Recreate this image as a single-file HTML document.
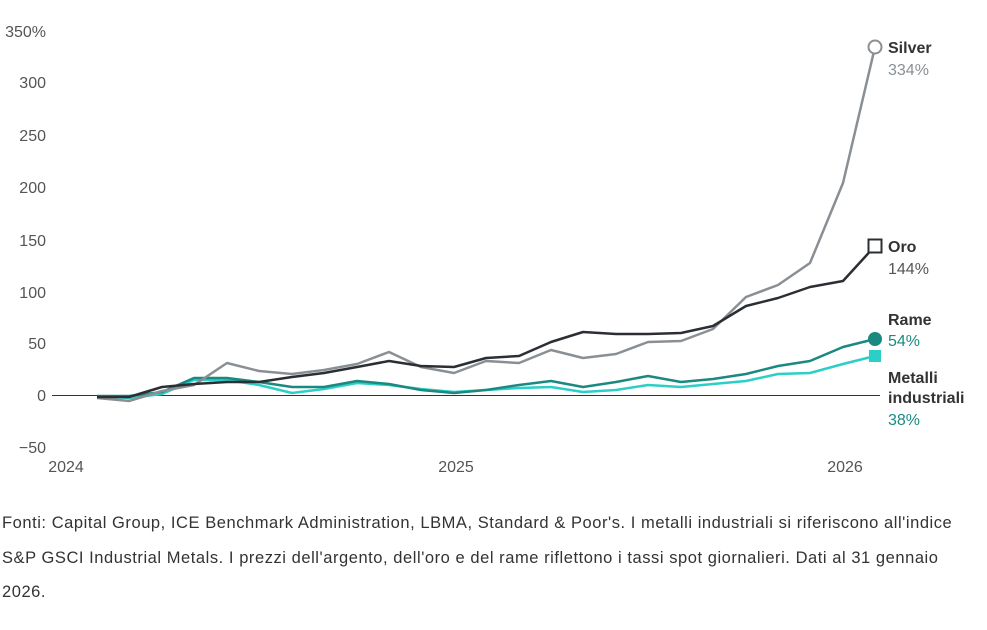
<!DOCTYPE html>
<html><head><meta charset="utf-8"><style>
body{margin:0;background:#fff;width:987px;height:630px;overflow:hidden;font-family:"Liberation Sans",sans-serif}
.f{position:absolute;left:2px;top:506px;font-size:16.5px;letter-spacing:0.55px;color:#333;line-height:34.5px;white-space:nowrap}
</style></head><body>
<svg width="987" height="500" style="position:absolute;left:0;top:0" font-family="Liberation Sans, sans-serif">
<g font-size="16" fill="#555">
<text x="46" y="37" text-anchor="end">350%</text>
<text x="46" y="88" text-anchor="end">300</text>
<text x="46" y="141" text-anchor="end">250</text>
<text x="46" y="193" text-anchor="end">200</text>
<text x="46" y="246" text-anchor="end">150</text>
<text x="46" y="298" text-anchor="end">100</text>
<text x="46" y="349" text-anchor="end">50</text>
<text x="46" y="401" text-anchor="end">0</text>
<text x="46" y="453" text-anchor="end">−50</text>
<text x="66" y="472" text-anchor="middle">2024</text>
<text x="456" y="472" text-anchor="middle">2025</text>
<text x="845" y="472" text-anchor="middle">2026</text>
</g>
<line x1="52" y1="395.5" x2="880" y2="395.5" stroke="#333" stroke-width="1"/>
<g fill="none" stroke-width="2.5" stroke-linejoin="round">
<polyline stroke="#2ccfc8" points="97,396 129,398 162,394 194,380 227,380 259,385 292,393 324,389 357,383 389,385 421,389 454,392 486,390 519,388 551,387 583,392 616,390 648,385 681,387 713,384 746,381 778,374 810,373 843,364 875,356"/>
<polyline stroke="#1a8a80" points="97,396 129,396 162,392 194,378 227,378 259,382 292,387 324,387 357,381 389,384 421,390 454,393 486,390 519,385 551,381 583,387 616,382 648,376 681,382 713,379 746,374 778,366 810,361 843,347 875,339"/>
<polyline stroke="#8a8f94" points="97,398 129,401 162,391 194,385 227,363 259,371 292,374 324,370 357,364 389,352 421,367 454,373 486,361 519,363 551,350 583,358 616,354 648,342 681,341 713,329 746,297 778,285 810,263 843,183 875,47"/>
<polyline stroke="#2b2f33" points="97,397 129,397 162,387 194,384 227,382 259,382 292,377 324,373 357,367 389,361 421,366 454,367 486,358 519,356 551,342 583,332 616,334 648,334 681,333 713,326 746,306 778,298 810,287 843,281 875,246"/>
</g>
<circle cx="875" cy="47" r="6.5" fill="#fff" stroke="#8a8f94" stroke-width="2"/>
<rect x="868.5" y="239.5" width="13" height="13" fill="#fff" stroke="#2b2f33" stroke-width="2"/>
<circle cx="875" cy="339" r="7" fill="#1a8a80"/>
<rect x="869" y="350" width="12" height="12" fill="#2ccfc8"/>
<g font-size="16">
<text x="888" y="53" font-weight="bold" fill="#333">Silver</text>
<text x="888" y="75" fill="#8a8f94">334%</text>
<text x="888" y="252" font-weight="bold" fill="#333">Oro</text>
<text x="888" y="274" fill="#555">144%</text>
<text x="888" y="325" font-weight="bold" fill="#333">Rame</text>
<text x="888" y="346" fill="#1a8a80">54%</text>
<text x="888" y="383" font-weight="bold" fill="#333">Metalli</text>
<text x="888" y="403" font-weight="bold" fill="#333">industriali</text>
<text x="888" y="425" fill="#1a8a80">38%</text>
</g>
</svg>
<div class="f">Fonti: Capital Group, ICE Benchmark Administration, LBMA, Standard &amp; Poor's. I metalli industriali si riferiscono all'indice<br>S&amp;P GSCI Industrial Metals. I prezzi dell'argento, dell'oro e del rame riflettono i tassi spot giornalieri. Dati al 31 gennaio<br>2026.</div>
</body></html>
